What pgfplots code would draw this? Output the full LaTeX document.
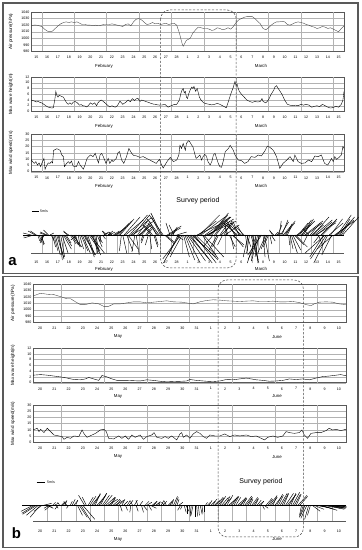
\documentclass[border=0pt]{standalone}
\usepackage{pgfplots}
\pgfplotsset{compat=1.18}
\usepackage{fontspec}
\setmainfont{Liberation Sans}
\definecolor{frm}{gray}{0.35}
\definecolor{grd}{gray}{0.70}
\pgfplotsset{
  common/.style={scale only axis, width=313bp,
    axis line style={draw=frm, line width=0.5bp},
    major tick length=0pt,
    ymajorgrids, grid style={grd, line width=0.3bp},
    extra x tick labels={},
    extra x tick style={grid=major},
    ticklabel style={font=\fontsize{3.6}{4}\selectfont, inner sep=0pt},
    xticklabel style={yshift=-4.6bp},
    yticklabel style={xshift=-1.5bp},
    /pgf/number format/assume math mode=true,
    /pgf/number format/1000 sep={},
    ylabel style={font=\fontsize{4.6}{5}\selectfont, at={(axis description cs:-0.064,0.5)}, anchor=center},
    cycle list={{black, line width=0.35bp, mark=none}},
  },
  pa/.style={common, xmin=0, xmax=29,
    xtick={0.5,1.5,...,28.5},
    xticklabels={15,16,17,18,19,20,21,22,23,24,25,26,27,28,1,2,3,4,5,6,7,8,9,10,11,12,13,14,15},
    extra x ticks={1,4,7,10,13,16,19,22,25,28}},
  pb/.style={common, xmin=0, xmax=22,
    xtick={0.5,1.5,...,21.5},
    xticklabels={20,21,22,23,24,25,26,27,28,29,30,31,1,2,3,4,5,6,7,8,9,10},
    extra x ticks={2,5,8,11,14,17,20}},
  stick/.style={scale only axis, width=313bp, clip=false,
    axis line style={draw=none}, major tick length=0pt, ytick=\empty,
    extra x tick labels={}, extra x tick style={grid=major},
    grid style={gray!60, line width=0.3bp},
    ticklabel style={font=\fontsize{3.6}{4}\selectfont, inner sep=0pt},
  },
}
\begin{document}
\begin{tikzpicture}[x=1bp,y=1bp]
\path[use as bounding box, fill=white] (0bp,0bp) rectangle (362bp,550bp);
% frames
\draw[frm, line width=1.2bp] (3bp,547bp) rectangle (358bp,276.5bp);
\draw[frm, line width=1.2bp] (3bp,273.5bp) rectangle (358bp,2.5bp);

% ---------------- Panel a ----------------
\begin{axis}[pa, at={(31bp,538bp)}, anchor=north west, height=39.5bp,
  ymin=980, ymax=1040, ytick={980,990,...,1040}, ylabel={Air pressure(hPa)}]
\addplot[black!75, line width=0.35bp, mark=none] table {
0 1019
0.25 1020
0.5 1020
0.75 1019
1.0 1018
1.25 1014
1.5 1011
1.75 1010
2.0 1011
2.25 1015
2.5 1019
2.75 1022
3.0 1024
3.25 1025
3.5 1024
3.75 1025
4.0 1024
4.25 1025
4.5 1023
4.75 1021
5.0 1021
5.25 1020
5.5 1020
5.75 1019
6.0 1020
6.25 1019
6.5 1020
6.75 1021
7.0 1021
7.25 1021
7.5 1022
7.75 1021
8.0 1020
8.25 1019
8.5 1018
8.75 1021
9.0 1022
9.25 1019
9.5 1025
9.75 1029
10.0 1030
10.25 1028
10.5 1024
10.75 1021
11.0 1022
11.25 1024
11.5 1022
11.75 1023
12.0 1021
12.25 1022
12.5 1023
12.75 1021
13.0 1022
13.25 1023
13.5 1020
13.75 1008
14.0 992
14.1 988
14.4 997
14.75 1000
15.0 1008
15.25 1013
15.5 1017
15.75 1016
16.0 1015
16.25 1015
16.5 1014
16.75 1012
17.0 1013
17.25 1016
17.5 1015
17.75 1013
18.0 1014
18.25 1016
18.5 1014
18.75 1018
19.0 1024
19.25 1028
19.5 1030
19.75 1032
20.0 1033
20.25 1033
20.5 1033
20.75 1030
21.0 1026
21.25 1022
21.5 1015
21.75 1013
22.0 1016
22.25 1020
22.5 1023
22.75 1025
23.0 1025
23.25 1026
23.5 1025
23.75 1021
24.0 1020
24.25 1022
24.5 1024
24.75 1025
25.0 1024
25.25 1023
25.5 1021
25.75 1020
26.0 1018
26.25 1017
26.5 1015
26.75 1016
27.0 1018
27.25 1017
27.5 1015
27.75 1016
28.0 1014
28.25 1012
28.5 1010
28.75 1015
29 1019
};
\end{axis}

\begin{axis}[pa, at={(31bp,473bp)}, anchor=north west, height=34.5bp,
  ymin=0, ymax=12, ytick={0,2,...,12}, ylabel={Max wave height(m)}]
\addplot table {
0.0 4.0
0.17 3.8
0.34 3.6
0.5 3.3
0.68 3.5
0.85 3.1
1.0 3.0
1.15 2.6
1.3 2.2
1.45 1.8
1.6 1.5
1.75 1.4
1.9 1.2
2.07 1.3
2.22 4.5
2.3 7.0
2.4 5.6
2.5 5.0
2.6 5.6
2.7 5.5
2.85 5.2
3.0 5.0
3.15 4.0
3.3 3.0
3.46 2.5
3.6 3.0
3.77 2.5
3.9 3.2
4.07 3.5
4.3 3.0
4.5 2.2
4.65 2.4
4.8 2.0
5.0 1.9
5.15 1.6
5.3 2.0
5.5 3.0
5.7 2.5
5.9 3.0
6.08 2.0
6.2 3.0
6.35 3.6
6.5 4.0
6.7 3.5
6.85 3.0
7.0 2.5
7.15 2.0
7.3 1.6
7.5 2.0
7.65 1.7
7.8 1.5
8.0 2.0
8.24 3.6
8.5 2.5
8.7 3.0
8.85 3.4
9.0 4.0
9.2 3.4
9.4 4.5
9.6 3.8
9.75 4.4
9.9 4.6
10.1 3.5
10.25 4.0
10.4 3.8
10.55 3.6
10.7 3.4
11.0 3.0
11.3 2.6
11.5 2.5
11.75 2.3
11.95 2.2
12.2 2.3
12.4 2.5
12.7 1.5
12.85 1.8
13.0 2.0
13.3 2.5
13.5 2.5
13.75 4.0
13.9 6.5
14.0 7.5
14.1 8.0
14.2 6.5
14.3 7.0
14.4 5.0
14.5 4.5
14.6 6.0
14.75 7.5
14.9 8.5
15.0 8.0
15.1 8.7
15.25 7.0
15.4 8.0
15.5 6.5
15.6 5.0
15.75 4.0
16.0 3.0
16.25 2.7
16.5 2.5
16.75 2.3
17.0 2.5
17.25 2.8
17.5 2.5
17.75 2.0
18.0 1.5
18.1 1.3
18.25 3.0
18.5 6.0
18.75 8.5
18.9 10.5
19.0 9.0
19.1 9.5
19.2 8.0
19.3 7.0
19.4 6.5
19.5 6.0
19.75 5.0
20.0 4.0
20.25 3.5
20.5 3.2
20.75 3.5
21.0 3.3
21.25 3.5
21.4 4.5
21.5 3.5
21.75 3.0
22.0 4.0
22.25 6.0
22.5 7.5
22.6 8.5
22.75 9.0
22.9 8.0
23.0 7.5
23.25 6.0
23.5 4.0
23.75 2.5
24.0 2.2
24.25 2.0
24.5 2.2
24.75 2.0
25.0 2.5
25.25 2.2
25.5 2.5
25.75 2.2
26.0 1.5
26.25 1.8
26.5 2.0
26.75 1.7
27.0 2.5
27.25 2.0
27.5 1.5
27.75 1.2
28.0 1.4
28.25 1.8
28.5 1.5
28.75 2.5
28.9 4.0
29.0 7.0
};
\end{axis}

\begin{axis}[pa, at={(31bp,416bp)}, anchor=north west, height=37.7bp,
  ymin=0, ymax=30, ytick={0,5,...,30}, ylabel={Max wind speed(m/s)}]
\addplot table {
0.0 9.8
0.15 8
0.3 6.6
0.45 8
0.6 5.3
0.75 7
0.9 4
1.0 6.6
1.2 10.6
1.3 1.9
1.45 5
1.6 7
1.75 6.6
1.9 8
2.0 7
2.1 17
2.4 18.3
2.7 17
2.85 13.3
3.0 12
3.1 4
3.3 6.6
3.45 8
3.6 6.6
3.75 8.5
3.9 4.5
4.2 4
4.4 8
4.55 5.3
4.85 2
5.0 5.3
5.2 10.6
5.5 13.3
5.75 12
5.95 14.6
6.1 10.6
6.25 7
6.4 13.3
6.55 14.6
6.7 12
6.95 6.6
7.15 10.6
7.3 6.6
7.5 9.3
7.6 8
7.9 10.6
8.05 15
8.2 16
8.4 9.3
8.6 6.6
8.85 12
9.07 18.5
9.3 15
9.5 13
9.8 12.5
10.1 11.4
10.4 12
10.7 10.6
11.0 9.3
11.3 8
11.6 6.6
11.9 9.8
12.1 5.3
12.25 3
12.6 8
12.9 11.4
13.2 8
13.5 9.3
13.7 13.3
13.8 21
13.95 18.5
14.1 22.5
14.3 17
14.4 22.5
14.6 24.7
14.7 23.9
14.9 21
15.0 20
15.2 13.3
15.3 10.6
15.5 12
15.65 13.3
15.8 9.3
15.95 12
16.1 13.8
16.25 12.5
16.4 8
16.6 5.3
16.75 8
16.9 13.3
17.05 14.6
17.2 10.6
17.35 6.6
17.5 4
17.65 3.5
17.8 8
18.0 16
18.3 18.5
18.45 21
18.75 17
18.9 13.3
19.2 9.3
19.5 8.8
19.8 6.6
20.1 8
20.4 12
20.75 11.4
21.05 13.3
21.35 12.5
21.7 17
21.9 20.4
22.15 19.3
22.45 17
22.75 12
23.05 2.7
23.35 6.6
23.7 9.3
24.0 12
24.3 8
24.45 13.3
24.75 8
25.05 6.6
25.4 7
25.7 9.3
26.0 8
26.3 12.5
26.6 12
26.9 13.3
27.2 6.6
27.5 5.3
27.85 10.6
28.0 8
28.15 12
28.3 9.8
28.55 11.4
28.75 13.3
28.9 20
29.0 18.5
};
\end{axis}

\begin{axis}[stick, at={(31bp,315bp)}, anchor=north west, height=18bp,
  xmin=0, xmax=29, ymin=-18, ymax=0,
  xtick={0.5,1.5,...,28.5},
  xticklabels={15,16,17,18,19,20,21,22,23,24,25,26,27,28,1,2,3,4,5,6,7,8,9,10,11,12,13,14,15},
  xticklabel style={yshift=-7.4bp},
  extra x ticks={1,2,...,28}]
\addplot[frm, line width=0.4bp, mark=none] coordinates {(0,-18) (29,-18)};
\addplot[black, line width=0.4bp, mark=none] coordinates {(-0.75,0) (29,0)};
\addplot[black, line width=0.45bp, mark=none, quiver={u=\thisrow{u}/10.8, v=\thisrow{v}}] table[x=x, y expr=0] {
x u v
0.0 -8 2
0.25 -10 -3
0.5 -6 4
0.75 3 -8
1.0 2 -10
1.25 -4 -6
1.5 -7 3
1.75 4 2
2.0 3 -12
2.25 5 -20
2.5 6 -24
2.75 4 -22
3.0 8 -14
3.25 5 -8
3.5 -5 3
3.75 7 -10
4.0 6 -12
4.25 -6 -5
4.5 4 -14
4.75 8 -18
5.0 10 -20
5.25 6 -17
5.5 14 -18
5.75 5 -19
6.0 3 -15
6.25 4 -8
6.5 -2 -6
6.75 5 3
7.0 -4 4
7.25 6 3
7.5 -3 3
7.75 8 5
8.0 12 12
8.25 14 16
8.5 4 -18
8.75 18 15
9.0 10 -14
9.25 20 17
9.5 16 20
9.75 3 -20
10.0 12 10
10.25 8 9
10.5 -3 -8
10.75 5 6
11.0 2 -14
11.25 -6 8
11.5 3 -10
11.75 -10 12
12.0 -9 18
12.25 -14 20
12.5 8 -7
12.75 12 7
13.0 6 8
13.25 -5 10
13.5 10 3
13.75 -16 -28
14.0 -12 -22
14.25 10 -25
14.5 18 -26
14.75 22 -28
15.0 25 -25
15.25 20 -20
15.5 18 14
15.75 24 18
16.0 20 -22
16.25 30 14
16.5 22 18
16.75 16 20
17.0 12 16
17.25 -8 -15
17.5 10 14
17.75 -5 -10
18.0 14 10
18.25 -3 10
18.5 3 -14
18.75 10 -12
19.0 -10 12
19.25 -6 14
19.5 -12 10
19.75 -8 8
20.0 4 -12
20.25 -3 -18
20.5 6 -25
20.75 3 -28
21.0 -6 -26
21.25 -12 -24
21.5 2 -22
21.75 -8 -18
22.0 -5 -12
22.25 4 -6
22.5 -4 4
22.75 5 2
23.0 2 14
23.25 6 15
23.5 10 12
23.75 4 8
24.0 3 -14
24.25 8 -15
24.5 12 -12
24.75 10 12
25.0 14 14
25.25 10 16
25.5 16 12
25.75 -6 6
26.0 12 10
26.25 18 15
26.5 15 13
26.75 -6 -8
27.0 14 14
27.25 -20 -18
27.5 -14 -28
27.75 12 16
28.0 -16 -14
28.25 18 15
28.5 16 18
28.75 8 12
0.125 -9 -1
0.375 -7 4
0.625 2 -6
0.875 4 -9
1.125 -3 -8
1.375 -6 2
1.625 -5 5
1.875 3 -6
2.125 4 -16
2.375 7 -22
2.625 3 -25
2.875 6 -18
3.125 7 -11
3.375 -4 4
3.625 6 -9
3.875 9 -12
4.125 3 -10
4.375 2 -12
4.625 7 -16
4.875 12 -20
5.125 8 -22
5.375 11 -16
5.625 9 -20
5.875 4 -17
6.125 5 -12
6.375 1 -7
6.625 3 -4
6.875 -3 4
7.125 5 4
7.375 -5 2
7.625 6 4
7.875 10 8
8.125 13 14
8.375 -2 -16
8.625 16 18
8.875 6 -16
9.125 18 20
9.375 22 14
9.625 -3 -17
9.875 10 14
10.125 9 11
10.375 -2 -6
10.625 6 8
10.875 -3 -10
11.125 -8 10
11.375 4 -12
11.625 -7 14
11.875 -12 16
12.125 -11 22
12.375 10 -9
12.625 14 9
12.875 -4 12
13.125 4 6
13.375 8 -5
13.625 -10 -20
13.875 -18 -24
14.125 6 -22
14.375 14 -28
14.625 20 -24
14.875 24 -22
15.125 22 -28
15.375 26 12
15.625 20 20
15.875 16 -24
16.125 25 18
16.375 26 16
16.625 18 22
16.875 -10 -12
17.125 14 18
17.375 -6 -12
17.625 12 12
17.875 8 14
18.125 -2 12
18.375 6 -12
18.625 12 -10
18.875 -8 14
19.125 -14 12
19.375 -9 12
19.625 -6 10
19.875 2 -16
20.125 -5 -22
20.375 8 -28
20.625 -2 -26
20.875 -9 -28
21.125 -4 -22
21.375 -14 -20
21.625 5 -26
21.875 -6 -14
22.125 2 -9
22.375 -3 5
22.625 3 3
22.875 4 10
23.125 8 13
23.375 12 14
23.625 6 11
23.875 1 -10
24.125 6 -18
24.375 10 -10
24.625 14 10
24.875 12 15
25.125 8 12
25.375 18 14
25.625 -4 -8
25.875 10 12
26.125 16 18
26.375 20 12
26.625 4 -10
26.875 16 16
27.125 -14 -22
27.375 -16 -24
27.625 14 12
27.875 -10 -20
28.125 20 14
28.375 14 20
28.625 10 16
28.875 16 18
};
\addplot[black, line width=0.9bp, mark=none, quiver={u=\thisrow{u}/10.8, v=\thisrow{v}}] table[x=x, y=y] {
x y u v
0.07 23.3 7 0
};
\end{axis}

% ---------------- Panel b ----------------
\begin{axis}[pb, at={(33bp,266bp)}, anchor=north west, height=38.5bp,
  ymin=980, ymax=1040, ytick={980,990,...,1040}, ylabel={Air pressure(hPa)}]
\addplot[black!75, line width=0.35bp, mark=none] table {
0.0 1021.3
0.54 1025.6
1.0 1024
1.47 1023.4
1.94 1020.2
2.4 1017
2.64 1017
2.99 1012.2
3.33 1007.9
3.68 1007.9
4.15 1010.6
4.62 1009
4.97 1005.2
5.32 1005.2
5.67 1009
6.13 1009
6.6 1010.6
7.07 1012.2
7.53 1012.2
8.0 1010.6
8.46 1011.7
8.93 1012.7
9.4 1013.8
9.86 1012.2
10.45 1011.7
10.91 1010.1
11.26 1009
11.73 1012.2
12.2 1014.3
12.66 1015.4
13.13 1014.9
13.6 1013.8
14.06 1013.3
14.52 1012.7
14.99 1013.3
15.46 1013.8
15.92 1012.7
16.39 1012.7
16.86 1013.3
17.32 1012.2
17.79 1012.2
18.26 1012.7
18.72 1011.1
19.19 1007.9
19.54 1006.3
19.77 1009
20.12 1011.7
20.59 1012.2
21.05 1011.7
21.52 1009
22.0 1007.9
};
\end{axis}

\begin{axis}[pb, at={(33bp,202bp)}, anchor=north west, height=34.7bp,
  ymin=0, ymax=12, ytick={0,2,...,12}, ylabel={Max wave height(m)}]
\addplot table {
0.0 2.6
0.54 2.8
1.0 2.6
1.47 2.3
1.94 2.0
2.4 1.6
2.87 1.1
3.33 1.0
3.68 1.3
3.92 1.8
4.27 1.3
4.62 0.8
4.85 2.5
5.2 2.0
5.55 1.3
5.9 0.8
6.6 0.8
7.53 0.6
8.0 1.0
8.46 0.8
8.93 0.5
9.4 0.3
9.86 0.4
10.45 0.5
10.8 0.6
11.03 1.1
11.5 0.8
12.2 0.5
12.66 0.4
13.13 0.6
13.6 1.1
14.06 1.0
14.52 1.3
14.99 1.6
15.34 1.3
15.69 1.0
16.16 0.8
16.62 0.5
17.09 0.6
17.56 0.8
18.02 1.3
18.49 1.1
18.96 1.3
19.42 1.0
19.9 1.6
20.35 2.1
20.82 2.3
21.3 2.6
21.63 2.8
22.0 2.4
};
\end{axis}

\begin{axis}[pb, at={(33bp,145bp)}, anchor=north west, height=37.3bp,
  ymin=0, ymax=30, ytick={0,5,...,30}, ylabel={Max wind speed(m/s)}]
\addplot table {
0.0 9.9
0.3 11.3
0.42 8.6
0.54 10.5
0.77 7.8
1.0 11.3
1.24 8.6
1.47 5.9
1.82 5.1
2.05 4.6
2.17 2.4
2.4 4.0
2.64 3.2
2.87 5.1
3.22 4.6
3.45 9.9
3.57 7.2
3.8 4.0
4.0 5.1
4.4 7.2
4.73 9.9
4.97 10.5
5.15 8.6
5.32 3.2
5.67 2.7
6.02 5.1
6.25 3.2
6.48 5.1
6.72 2.4
6.95 5.9
7.18 4.0
7.53 5.9
7.76 2.4
8.0 4.6
8.35 5.9
8.51 7.8
8.7 4.0
9.05 3.2
9.28 4.6
9.51 3.2
9.75 5.1
10.1 1.9
10.33 6.7
10.45 7.8
10.56 4.0
10.8 5.9
11.03 3.2
11.26 6.7
11.5 8.6
11.73 7.2
11.96 4.6
12.2 3.2
12.43 5.9
12.78 5.1
13.13 5.1
13.48 6.7
13.83 4.6
14.17 5.9
14.52 5.1
14.99 5.9
15.34 4.6
15.69 5.1
16.04 3.2
16.27 1.9
16.5 4.0
16.86 5.1
17.2 4.0
17.56 5.1
17.79 8.6
18.02 7.8
18.37 7.2
18.72 7.8
18.9 9.9
19.07 5.9
19.3 3.2
19.54 7.2
19.9 7.8
20.24 7.8
20.6 9.4
20.82 11.3
21.05 9.9
21.3 10.5
21.63 9.4
22.0 10.5
};
\end{axis}

\begin{axis}[stick, at={(33bp,44.7bp)}, anchor=north west, height=16bp,
  xmin=0, xmax=22, ymin=-16, ymax=0,
  xtick={0.5,1.5,...,21.5},
  xticklabels={20,21,22,23,24,25,26,27,28,29,30,31,1,2,3,4,5,6,7,8,9,10},
  xticklabel style={yshift=-8.4bp},
  extra x ticks={1,2,...,21}]
\addplot[frm, line width=0.4bp, mark=none] coordinates {(0,-16) (22,-16)};
\addplot[black, line width=0.4bp, mark=none] coordinates {(-0.75,0) (22,0)};
\addplot[black, line width=0.45bp, mark=none, quiver={u=\thisrow{u}/14.23, v=\thisrow{v}}] table[x=x, y expr=0] {
x u v
0.0 -12 -6
0.25 -14 -9
0.5 -10 -12
0.75 8 2
1.0 6 -3
1.25 -6 -5
1.5 4 2
1.75 -3 -4
2.0 3 3
2.25 2 5
2.5 -2 -3
2.75 3 6
3.0 2 5
3.25 8 -12
3.5 12 -14
3.75 -4 8
4.0 6 9
4.25 7 11
4.5 9 10
4.75 6 12
5.0 8 10
5.25 10 6
5.5 4 7
5.75 9 5
6.0 5 4
6.25 3 6
6.5 2 -5
6.75 4 5
7.0 -2 4
7.25 2 -6
7.5 3 4
7.75 4 -5
8.0 5 3
8.25 6 -3
8.5 3 4
8.75 2 3
9.0 3 5
9.25 -3 3
9.5 4 4
9.75 2 6
10.0 3 8
10.25 4 3
10.5 -2 -4
10.75 3 -6
11.0 1 -8
11.25 -2 -10
11.5 1 -11
11.75 2 -9
12.0 0 -7
12.25 3 3
12.5 4 4
12.75 5 5
13.0 6 7
13.25 7 8
13.5 5 9
13.75 8 7
14.0 6 9
14.25 5 8
14.5 7 6
14.75 4 7
15.0 6 8
15.25 3 6
15.5 5 7
15.75 4 5
16.0 3 4
16.25 4 -3
16.5 5 6
16.75 6 8
17.0 7 9
17.25 5 10
17.5 6 11
17.75 8 12
18.0 6 10
18.25 7 13
18.5 5 11
18.75 8 9
19.0 -4 -12
19.25 -6 -13
19.5 -3 -10
19.75 10 -4
20.0 14 -3
20.25 16 -5
20.5 17 -2
20.75 16 -4
21.0 13 -3
21.25 10 -2
21.5 7 -2
21.75 4 -1
0.125 -13 -8
0.375 -12 -10
0.625 -8 -6
0.875 7 -2
1.125 -5 -3
1.375 3 3
1.625 2 -3
1.875 -2 3
2.125 3 4
2.375 -3 4
2.625 2 4
2.875 4 5
3.125 5 -10
3.375 10 -16
3.625 -6 10
3.875 5 8
4.125 8 10
4.375 5 12
4.625 8 12
4.875 7 10
5.125 9 8
5.375 6 8
5.625 7 6
5.875 4 5
6.125 2 -6
6.375 4 4
6.625 3 5
6.875 -1 -7
7.125 3 5
7.375 -2 5
7.625 2 -7
7.875 4 4
8.125 3 -5
8.375 5 4
8.625 4 3
8.875 1 4
9.125 4 4
9.375 -2 4
9.625 3 5
9.875 4 9
10.125 2 6
10.375 -3 -5
10.625 2 -7
10.875 0 -9
11.125 -1 -11
11.375 0 -12
11.625 1 -10
11.875 1 -8
12.125 2 3
12.375 3 5
12.625 4 6
12.875 7 8
13.125 6 9
13.375 8 7
13.625 6 10
13.875 7 8
14.125 5 9
14.375 8 7
14.625 5 8
14.875 7 9
15.125 4 7
15.375 6 8
15.625 3 6
15.875 5 4
16.125 2 -4
16.375 6 7
16.625 7 9
16.875 4 10
17.125 6 11
17.375 7 12
17.625 5 12
17.875 9 11
18.125 5 12
18.375 6 11
18.625 9 10
18.875 -2 -10
19.125 -5 -11
19.375 -4 -14
19.625 8 -6
19.875 12 -2
20.125 15 -4
20.375 17 -3
20.625 17 -3
20.875 14 -2
21.125 12 -3
21.375 8 -1
21.625 6 -2
21.875 2 -1
};
\addplot[black, line width=0.9bp, mark=none, quiver={u=\thisrow{u}/14.23, v=\thisrow{v}}] table[x=x, y=y] {
x y u v
0.26 23 8 0
};
\end{axis}

% month labels
\begin{scope}[every node/.style={font=\fontsize{4.4}{5}\selectfont, inner sep=0pt}]
\node at (104bp,484bp) {February}; \node at (261bp,484bp) {March};
\node at (104bp,424bp) {February}; \node at (261bp,424bp) {March};
\node at (104bp,364bp) {February}; \node at (261bp,364bp) {March};
\node at (104bp,281bp) {February}; \node at (261bp,281bp) {March};
\node at (118bp,213.3bp) {May}; \node at (277bp,213.3bp) {June};
\node at (118bp,154bp) {May}; \node at (277bp,154bp) {June};
\node at (118bp,93.3bp) {May}; \node at (277bp,93.3bp) {June};
\node at (118bp,10.7bp) {May}; \node at (277bp,10.7bp) {June};
\node[anchor=west, font=\fontsize{3.6}{4}\selectfont] at (40bp,338.3bp) {5m/s};
\node[anchor=west, font=\fontsize{3.6}{4}\selectfont] at (47bp,67.7bp) {5m/s};
\end{scope}
% survey period boxes
\draw[gray!55!black, line width=0.5bp, dash pattern=on 2.2bp off 1.6bp, rounded corners=9bp]
  (160.6bp,540bp) rectangle (236.2bp,282bp);
\draw[gray!55!black, line width=0.5bp, dash pattern=on 2.2bp off 1.6bp, rounded corners=9bp]
  (218bp,270bp) rectangle (303.4bp,13bp);
\node[font=\fontsize{7}{8}\selectfont] at (198bp,349bp) {Survey period};
\node[font=\fontsize{7}{8}\selectfont] at (261bp,68bp) {Survey period};
\node[font=\fontsize{15}{16}\bfseries\selectfont] at (12.5bp,288bp) {a};
\node[font=\fontsize{15}{16}\bfseries\selectfont] at (16.5bp,17bp) {b};
\end{tikzpicture}
\end{document}
